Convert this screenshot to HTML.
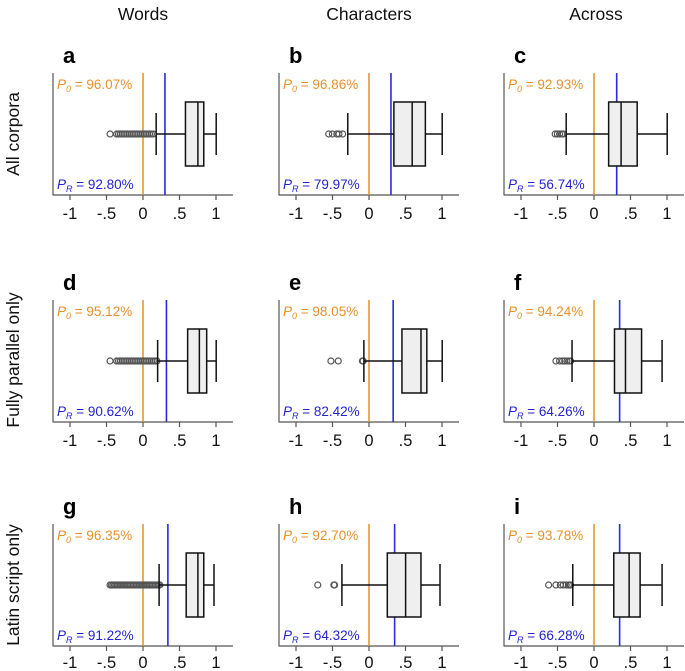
<!DOCTYPE html>
<html><head><meta charset="utf-8"><style>
html,body{margin:0;padding:0;background:#fff;}
svg{display:block;font-family:"Liberation Sans",sans-serif;}
.hd{font-size:17.5px;fill:#111;text-anchor:middle}
.lt{font-size:22px;font-weight:bold;fill:#000}
.tk{font-size:16.5px;fill:#111;text-anchor:middle}
.po{font-size:13.5px;fill:#e8902a}
.pr{font-size:13.5px;fill:#2424d0}
</style></head><body>
<svg id="s" width="685" height="671" viewBox="0 0 685 671" xmlns="http://www.w3.org/2000/svg">
<text class="hd" x="143" y="20">Words</text>
<text class="hd" x="369" y="20">Characters</text>
<text class="hd" x="596" y="20">Across</text>
<text class="hd" transform="translate(19,134) rotate(-90)">All corpora</text>
<text class="hd" transform="translate(19,360) rotate(-90)">Fully parallel only</text>
<text class="hd" transform="translate(19,585) rotate(-90)">Latin script only</text>
<g id="shp"></g>

<g transform="translate(0,0)"><text class="lt" x="63" y="63">a</text><text class="po" x="57" y="89"><tspan font-style="italic">P</tspan><tspan font-size="9" dy="3" font-style="italic">0</tspan><tspan dy="-3"> = 96.07%</tspan></text><text class="pr" x="57" y="189"><tspan font-style="italic">P</tspan><tspan font-size="9" dy="3" font-style="italic">R</tspan><tspan dy="-3"> = 92.80%</tspan></text></g>
<g transform="translate(226,0)"><text class="lt" x="63" y="63">b</text><text class="po" x="57" y="89"><tspan font-style="italic">P</tspan><tspan font-size="9" dy="3" font-style="italic">0</tspan><tspan dy="-3"> = 96.86%</tspan></text><text class="pr" x="57" y="189"><tspan font-style="italic">P</tspan><tspan font-size="9" dy="3" font-style="italic">R</tspan><tspan dy="-3"> = 79.97%</tspan></text></g>
<g transform="translate(451,0)"><text class="lt" x="63" y="63">c</text><text class="po" x="57" y="89"><tspan font-style="italic">P</tspan><tspan font-size="9" dy="3" font-style="italic">0</tspan><tspan dy="-3"> = 92.93%</tspan></text><text class="pr" x="57" y="189"><tspan font-style="italic">P</tspan><tspan font-size="9" dy="3" font-style="italic">R</tspan><tspan dy="-3"> = 56.74%</tspan></text></g>
<g transform="translate(0,227)"><text class="lt" x="63" y="63">d</text><text class="po" x="57" y="89"><tspan font-style="italic">P</tspan><tspan font-size="9" dy="3" font-style="italic">0</tspan><tspan dy="-3"> = 95.12%</tspan></text><text class="pr" x="57" y="189"><tspan font-style="italic">P</tspan><tspan font-size="9" dy="3" font-style="italic">R</tspan><tspan dy="-3"> = 90.62%</tspan></text></g>
<g transform="translate(226,227)"><text class="lt" x="63" y="63">e</text><text class="po" x="57" y="89"><tspan font-style="italic">P</tspan><tspan font-size="9" dy="3" font-style="italic">0</tspan><tspan dy="-3"> = 98.05%</tspan></text><text class="pr" x="57" y="189"><tspan font-style="italic">P</tspan><tspan font-size="9" dy="3" font-style="italic">R</tspan><tspan dy="-3"> = 82.42%</tspan></text></g>
<g transform="translate(451,227)"><text class="lt" x="63" y="63">f</text><text class="po" x="57" y="89"><tspan font-style="italic">P</tspan><tspan font-size="9" dy="3" font-style="italic">0</tspan><tspan dy="-3"> = 94.24%</tspan></text><text class="pr" x="57" y="189"><tspan font-style="italic">P</tspan><tspan font-size="9" dy="3" font-style="italic">R</tspan><tspan dy="-3"> = 64.26%</tspan></text></g>
<g transform="translate(0,451)"><text class="lt" x="63" y="63">g</text><text class="po" x="57" y="89"><tspan font-style="italic">P</tspan><tspan font-size="9" dy="3" font-style="italic">0</tspan><tspan dy="-3"> = 96.35%</tspan></text><text class="pr" x="57" y="189"><tspan font-style="italic">P</tspan><tspan font-size="9" dy="3" font-style="italic">R</tspan><tspan dy="-3"> = 91.22%</tspan></text></g>
<g transform="translate(226,451)"><text class="lt" x="63" y="63">h</text><text class="po" x="57" y="89"><tspan font-style="italic">P</tspan><tspan font-size="9" dy="3" font-style="italic">0</tspan><tspan dy="-3"> = 92.70%</tspan></text><text class="pr" x="57" y="189"><tspan font-style="italic">P</tspan><tspan font-size="9" dy="3" font-style="italic">R</tspan><tspan dy="-3"> = 64.32%</tspan></text></g>
<g transform="translate(451,451)"><text class="lt" x="63" y="63">i</text><text class="po" x="57" y="89"><tspan font-style="italic">P</tspan><tspan font-size="9" dy="3" font-style="italic">0</tspan><tspan dy="-3"> = 93.78%</tspan></text><text class="pr" x="57" y="189"><tspan font-style="italic">P</tspan><tspan font-size="9" dy="3" font-style="italic">R</tspan><tspan dy="-3"> = 66.28%</tspan></text></g>

<g id="ticks">
<g transform="translate(0,0)"><text class="tk" x="70" y="219">-1</text><text class="tk" x="106.5" y="219">-.5</text><text class="tk" x="143" y="219">0</text><text class="tk" x="179.5" y="219">.5</text><text class="tk" x="216" y="219">1</text></g>
<g transform="translate(226,0)"><text class="tk" x="70" y="219">-1</text><text class="tk" x="106.5" y="219">-.5</text><text class="tk" x="143" y="219">0</text><text class="tk" x="179.5" y="219">.5</text><text class="tk" x="216" y="219">1</text></g>
<g transform="translate(451,0)"><text class="tk" x="70" y="219">-1</text><text class="tk" x="106.5" y="219">-.5</text><text class="tk" x="143" y="219">0</text><text class="tk" x="179.5" y="219">.5</text><text class="tk" x="216" y="219">1</text></g>
<g transform="translate(0,227)"><text class="tk" x="70" y="219">-1</text><text class="tk" x="106.5" y="219">-.5</text><text class="tk" x="143" y="219">0</text><text class="tk" x="179.5" y="219">.5</text><text class="tk" x="216" y="219">1</text></g>
<g transform="translate(226,227)"><text class="tk" x="70" y="219">-1</text><text class="tk" x="106.5" y="219">-.5</text><text class="tk" x="143" y="219">0</text><text class="tk" x="179.5" y="219">.5</text><text class="tk" x="216" y="219">1</text></g>
<g transform="translate(451,227)"><text class="tk" x="70" y="219">-1</text><text class="tk" x="106.5" y="219">-.5</text><text class="tk" x="143" y="219">0</text><text class="tk" x="179.5" y="219">.5</text><text class="tk" x="216" y="219">1</text></g>
<g transform="translate(0,449)"><text class="tk" x="70" y="219">-1</text><text class="tk" x="106.5" y="219">-.5</text><text class="tk" x="143" y="219">0</text><text class="tk" x="179.5" y="219">.5</text><text class="tk" x="216" y="219">1</text></g>
<g transform="translate(226,449)"><text class="tk" x="70" y="219">-1</text><text class="tk" x="106.5" y="219">-.5</text><text class="tk" x="143" y="219">0</text><text class="tk" x="179.5" y="219">.5</text><text class="tk" x="216" y="219">1</text></g>
<g transform="translate(451,449)"><text class="tk" x="70" y="219">-1</text><text class="tk" x="106.5" y="219">-.5</text><text class="tk" x="143" y="219">0</text><text class="tk" x="179.5" y="219">.5</text><text class="tk" x="216" y="219">1</text></g>
</g>
</svg>
<script>
(function(){
var NS="http://www.w3.org/2000/svg",g=document.getElementById("shp");
function el(t,a,p){var e=document.createElementNS(NS,t);for(var k in a)e.setAttribute(k,a[k]);(p||g).appendChild(e);return e;}
function X(v){return 143+73.2*v;}
function range(a,b,s){var r=[];for(var v=a;v<=b+1e-9;v+=s)r.push(v);return r;}
var P=[
 [0,0,{b:.30,lw:.18,q1:.58,md:.75,q3:.83,rw:1.0,o:[-.45].concat(range(-.36,.15,.025))}],
 [226,0,{b:.30,lw:-.29,q1:.34,md:.59,q3:.77,rw:1.0,o:[-.55,-.5,-.44,-.41,-.36]}],
 [451,0,{b:.31,lw:-.38,q1:.20,md:.37,q3:.59,rw:1.0,o:[-.53,-.5,-.47,-.44,-.42]}],
 [0,227,{b:.32,lw:.20,q1:.61,md:.77,q3:.87,rw:1.0,o:[-.45].concat(range(-.36,.2,.025))}],
 [226,227,{b:.33,lw:-.07,q1:.45,md:.71,q3:.79,rw:1.0,o:[-.52,-.42,-.09,-.08]}],
 [451,227,{b:.35,lw:-.30,q1:.28,md:.43,q3:.65,rw:.93,o:[-.52,-.47,-.43,-.4,-.37,-.34,-.32]}],
 [0,451,{b:.34,lw:.22,q1:.59,md:.75,q3:.83,rw:.97,o:range(-.45,.23,.02)}],
 [226,451,{b:.35,lw:-.37,q1:.25,md:.50,q3:.71,rw:.97,o:[-.7,-.48,-.47]}],
 [451,451,{b:.35,lw:-.29,q1:.27,md:.48,q3:.63,rw:.93,o:[-.62,-.52,-.46,-.42,-.38,-.35,-.33,-.32]}]
];
P.forEach(function(p){
 var d=p[2],G=el("g",{transform:"translate("+p[0]+","+p[1]+")"});
 function L(x1,y1,x2,y2,c,w){el("line",{x1:x1,y1:y1,x2:x2,y2:y2,stroke:c,"stroke-width":w},G);}
 L(53,73,53,195.5,"#555",1.2);L(53,195,233,195,"#555",1.2);
 [70,106.5,143,179.5,216].forEach(function(x){L(x,195,x,200,"#555",1.2);});
 L(143,73,143,195,"#e8962e",1.6);
 L(X(d.b),73,X(d.b),195,"#2a2ae0",1.6);
 d.o.forEach(function(v){el("circle",{cx:X(v),cy:134,r:3,fill:"none",stroke:"#555","stroke-width":1.2},G);});
 L(X(d.lw),134,X(d.q1),134,"#111",1.5);L(X(d.q3),134,X(d.rw),134,"#111",1.5);
 L(X(d.lw),113,X(d.lw),155,"#111",1.5);L(X(d.rw),113,X(d.rw),155,"#111",1.5);
 el("rect",{x:X(d.q1),y:102,width:X(d.q3)-X(d.q1),height:64,fill:"#efefef",stroke:"#111","stroke-width":1.5},G);
 L(X(d.md),102,X(d.md),166,"#111",1.5);
});
})();
</script>
</body></html>
